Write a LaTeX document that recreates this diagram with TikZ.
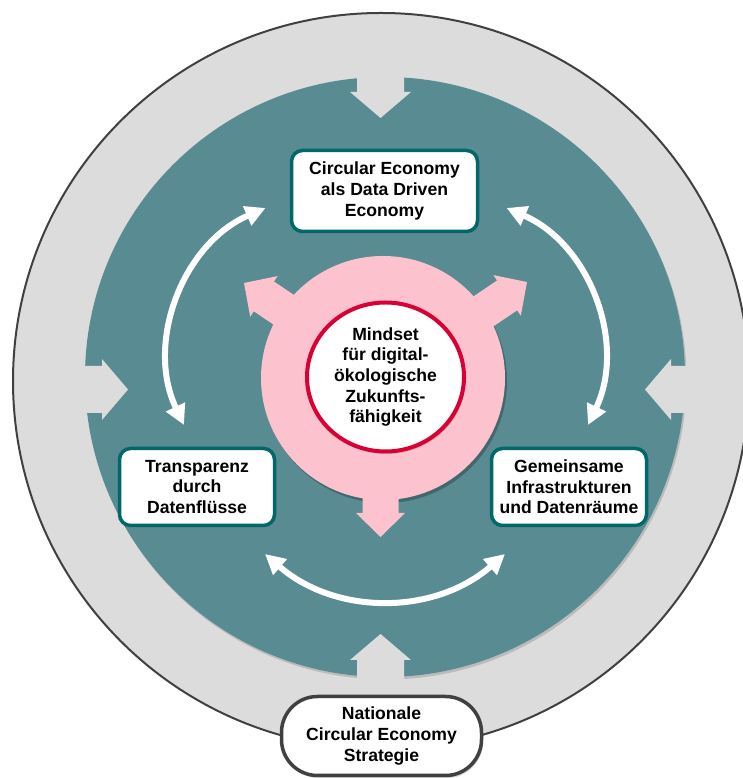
\documentclass[tikz,border=0pt]{standalone}
\usepackage{fontspec}
\setmainfont{Liberation Sans}
\usetikzlibrary{arrows.meta,shapes.geometric,shadows}

\definecolor{ringgray}{RGB}{220,220,220}
\definecolor{ringline}{RGB}{64,64,64}
\definecolor{tealbg}{RGB}{89,139,146}
\definecolor{tealline}{RGB}{0,104,106}
\definecolor{pinkbg}{RGB}{252,194,206}
\definecolor{redline}{RGB}{218,0,52}

\tikzset{
  every node/.style={font=\bfseries\fontsize{17.6}{20.6}\selectfont, inner sep=0pt},
  softshadow/.style={drop shadow={opacity=0.35, shadow xshift=1.5pt, shadow yshift=-2.5pt}},
  goalbox/.style={draw=tealline, line width=3.5pt, fill=white, rounded corners=11pt, align=center, softshadow},
  flow/.style={draw=white, line width=6pt, {Triangle[length=20pt,width=20pt]}-{Triangle[length=20pt,width=20pt]}},
  inarrow/.pic={\fill[ringgray] (0,0) -- (26,30.5) -- (26,23.5) -- (80,23.5) -- (80,-23.5) -- (26,-23.5) -- (26,-30.5) -- cycle;},
  outarrow/.pic={\fill[pinkbg] (0,0) -- (-24,-24.5) -- (-24,-18) -- (-140,-18) -- (-140,18) -- (-24,18) -- (-24,24.5) -- cycle;}
}

\begin{document}
\begin{tikzpicture}[x=1pt, y=1pt]
\clip (0,0) rectangle (743,778);
\useasboundingbox (0,0) rectangle (743,778);

% rings
\node[circle, draw=ringline, line width=2pt, fill=ringgray, minimum size=736pt] (ring) at (381,397) {};
\node[circle, fill=tealbg, minimum size=600pt, softshadow] (core) at (385,401) {};

% arrows from the ring
\pic[rotate=90] at (380.5,660) {inarrow};
\pic[rotate=180] at (128,388.5) {inarrow};
\pic at (645,388.5) {inarrow};
\pic[rotate=270] at (380.5,144) {inarrow};

% mindset
\coordinate (pk) at (383,400);
\fill[black, opacity=0.25] (385,397) circle (122);
\pic[rotate=146] at (244,495) {outarrow};
\pic[rotate=34] at (527,496) {outarrow};
\pic[rotate=270] at (380.5,241) {outarrow};
\node[circle, fill=pinkbg, minimum size=244pt] (pinkdisc) at (pk) {};
\node[ellipse, draw=redline, line width=4pt, fill=white, minimum width=157pt, minimum height=149pt, align=center, softshadow] (mind) at (385.5,401) {Mindset\\für digital-\\ökologische\\Zukunfts-\\fähigkeit};

% goals
\node[goalbox, minimum width=186pt, minimum height=81pt] (data) at (384.5,587) {Circular Economy\\als Data Driven\\Economy};
\node[goalbox, minimum width=155pt, minimum height=77pt] (trans) at (197,291) {Transparenz\\durch\\Datenflüsse};
\node[goalbox, minimum width=155pt, minimum height=77pt] (infra) at (569,291) {Gemeinsame\\Infrastrukturen\\und Datenräume};

% cycle
\coordinate (l1) at (184,353);
\coordinate (l2) at (265.5,570);
\coordinate (r1) at (506.5,570);
\coordinate (r2) at (588,353);
\coordinate (b1) at (265,224);
\coordinate (b2) at (505,224);
\draw[flow] (l1) to[bend left=46] (l2);
\draw[flow] (r1) to[bend left=46] (r2);
\draw[flow] (b1) to[bend right=41] (b2);

% strategy
\node[draw=ringline, line width=3.5pt, fill=white, rounded corners=36pt, minimum width=200pt, minimum height=79pt, align=center, softshadow] (nat) at (381.5,42) {Nationale\\Circular Economy\\Strategie};
\end{tikzpicture}
\end{document}
